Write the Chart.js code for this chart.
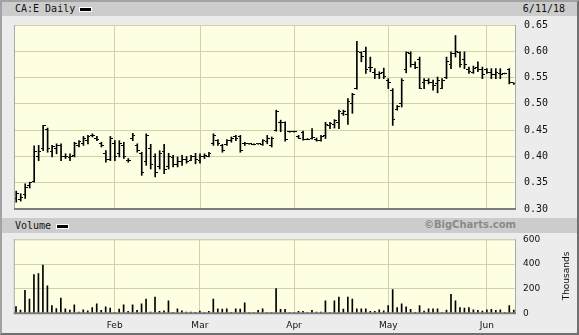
<!DOCTYPE html>
<html>
<head>
<meta charset="utf-8">
<script src="https://cdn.jsdelivr.net/npm/chart.js@4.4.1/dist/chart.umd.min.js"></script>
<style>
  body { margin: 0; }
  #frame { position: relative; width: 579px; height: 335px; background: #ececec; overflow: hidden;
           font-family: 'DejaVu Sans Mono', monospace; font-size: 10px; color: #111; }
  #edge { position: absolute; left: 0; top: 0; width: 579px; height: 335px; box-sizing: border-box;
          border: 2px solid #a2a2a2; border-right-color: #707070; border-bottom-color: #707070; pointer-events: none; }
  .bar { position: absolute; left: 2px; width: 575px; background: #cccccc; }
  .lbl { position: absolute; white-space: nowrap; }
  .swatch { position: absolute; width: 11px; height: 3px; background: #000; border: 1px solid #fff; }
  .box { position: absolute; left: 9px; width: 570px; }
  #thou { position: absolute; left: 566px; top: 276px; font: 9px 'DejaVu Sans', sans-serif;
          transform: translate(-50%, -50%) rotate(-90deg); white-space: nowrap; }
</style>
</head>
<body>
<div id="frame">
  <div class="bar" style="top:2px;height:14px"></div>
  <span class="lbl" style="left:15px;top:3px">CA:E Daily</span>
  <span class="swatch" style="left:79px;top:7px"></span>
  <span class="lbl" style="right:14px;top:3px">6/11/18</span>

  <div class="bar" style="top:218px;height:15px"></div>
  <span class="lbl" style="left:15px;top:220px">Volume</span>
  <span class="swatch" style="left:56px;top:224px"></span>
  <span class="lbl" style="right:63px;top:219px;font:bold 10px 'DejaVu Sans',sans-serif;color:#8a8a8a">©BigCharts.com</span>

  <div class="box" style="top:11px;height:212px"><canvas id="price" width="570" height="212"></canvas></div>
  <div class="box" style="top:227px;height:111px"><canvas id="vol" width="570" height="111"></canvas></div>
  <div id="thou">Thousands</div>
  <div id="edge"></div>
</div>
<script>
'use strict';
// daily OHLC, Jan 2 - Jun 11 2018
let highs = [.334,.329,.348,.351,.420,.421,.459,.454,.421,.424,
  .424,.405,.405,.427,.430,.438,.440,.443,.438,.427,
  .411,.438,.430,.430,.427,.396,.444,.424,.408,.443,
  .423,.405,.411,.423,.406,.402,.399,.402,.400,.402,
  .406,.405,.405,.408,.443,.432,.423,.432,.437,.440,
  .440,.427,.424,.424,.424,.432,.440,.437,.488,.469,
  .466,.448,.448,.440,.448,.434,.453,.435,.440,.465,
  .465,.470,.488,.488,.510,.520,.619,.599,.608,.589,
  .567,.561,.568,.548,.529,.497,.548,.599,.599,.580,
  .589,.548,.548,.545,.551,.548,.589,.599,.630,.599,
  .599,.570,.572,.580,.570,.567,.567,.567,.567,.558,
  .567,.540];
let lows = [.313,.315,.320,.340,.351,.392,.411,.408,.399,.405,
  .392,.396,.392,.399,.418,.421,.424,.437,.430,.418,
  .389,.392,.392,.399,.396,.389,.430,.408,.364,.383,
  .376,.361,.376,.367,.376,.380,.380,.383,.387,.392,
  .386,.387,.396,.399,.421,.421,.408,.421,.427,.430,
  .408,.421,.423,.422,.423,.421,.424,.418,.448,.447,
  .429,.446,.446,.434,.431,.432,.433,.429,.429,.434,
  .453,.454,.453,.478,.461,.482,.528,.580,.558,.561,
  .548,.548,.548,.529,.459,.488,.494,.559,.570,.567,
  .529,.529,.538,.526,.521,.529,.548,.567,.589,.570,
  .567,.558,.558,.561,.548,.558,.548,.548,.548,.557,
  .538,.537];
let opens = [.320,.318,.328,.345,.352,.400,.415,.452,.410,.415,
  .420,.400,.398,.402,.420,.425,.430,.440,.435,.425,
  .405,.395,.425,.405,.420,.392,.435,.420,.405,.390,
  .415,.400,.380,.410,.380,.398,.385,.390,.395,.393,
  .400,.392,.400,.400,.425,.430,.420,.422,.430,.438,
  .438,.424,.424,.423,.424,.422,.428,.420,.450,.465,
  .465,.447,.447,.438,.445,.433,.435,.432,.430,.440,
  .458,.460,.465,.482,.480,.500,.530,.598,.600,.570,
  .560,.555,.560,.545,.525,.490,.500,.565,.595,.575,
  .585,.540,.545,.540,.538,.530,.550,.575,.595,.598,
  .585,.565,.560,.570,.565,.565,.560,.555,.558,.558,
  .565,.540];
let closes = [.330,.322,.340,.350,.410,.410,.458,.415,.418,.420,
  .400,.400,.400,.425,.428,.435,.438,.440,.432,.420,
  .395,.435,.400,.425,.400,.392,.440,.412,.370,.440,
  .385,.370,.405,.375,.400,.385,.390,.395,.390,.400,
  .395,.400,.402,.406,.440,.425,.412,.430,.435,.435,
  .412,.424,.424,.422,.424,.430,.435,.435,.485,.465,
  .432,.447,.447,.435,.433,.433,.436,.430,.438,.460,
  .462,.468,.485,.485,.505,.518,.600,.590,.565,.570,
  .555,.558,.552,.540,.470,.495,.545,.598,.575,.570,
  .530,.545,.540,.535,.545,.545,.580,.595,.600,.575,
  .575,.562,.568,.565,.555,.560,.555,.560,.555,.558,
  .540,.538];
// volume in thousands
let volume = [54,26,185,115,315,323,392,223,62,38,123,36,26,69,10,28,20,46,77,23,51,41,
  5,33,69,15,69,23,77,115,10,131,15,20,100,5,36,20,10,10,8,
  18,3,15,115,36,33,36,8,36,33,85,2,2,23,36,2,2,200,31,31,5,
  5,15,15,3,23,10,10,100,5,100,131,33,131,115,36,36,36,15,15,28,20,62,
  192,46,77,51,31,8,62,18,36,36,36,3,26,154,100,46,41,46,28,23,18,
  28,31,23,28,5,62,26];
let priceTicks = [0.30, 0.35, 0.40, 0.45, 0.50, 0.55, 0.60, 0.65];
let volTicks = [0, 200, 400, 600];
let monthNames = ['Jan','Feb','Mar','Apr','May','Jun','Jul','Aug','Sep','Oct','Nov','Dec'];
let holidays = ['2018-02-19', '2018-03-30', '2018-05-21'];

// trading days (categories)
let days = [];
let d = new Date(Date.UTC(2018, 0, 2));
while (days.length < highs.length) {
    let s = d.toISOString().slice(0, 10);
    let wd = d.getUTCDay();
    if (wd !== 0 && wd !== 6 && !holidays.includes(s)) days.push(s);
    d.setUTCDate(d.getUTCDate() + 1);
}
let monthStart = days.map((s, i) => i > 0 && s.slice(5, 7) !== days[i - 1].slice(5, 7));

let plotBg = '#fefee3';
let gridCol = '#d2d2a8';

function tickMark(side) {
    let c = document.createElement('canvas');
    c.width = 5;
    c.height = 1;
    let g = c.getContext('2d');
    g.fillStyle = '#000';
    g.fillRect(side === 'open' ? 0 : 3, 0, 2, 1);
    return c;
}

let plotFrame = {
    id: 'plotFrame',
    beforeDraw(chart) {
        let a = chart.chartArea, ctx = chart.ctx;
        ctx.save();
        ctx.fillStyle = plotBg;
        ctx.fillRect(a.left, a.top, a.right - a.left, a.bottom - a.top);
        ctx.restore();
    },
    afterDraw(chart) {
        let a = chart.chartArea, ctx = chart.ctx;
        ctx.save();
        ctx.lineWidth = 1;
        ctx.strokeStyle = gridCol;
        ctx.beginPath(); ctx.moveTo(a.left, a.top + 0.5); ctx.lineTo(a.right, a.top + 0.5); ctx.stroke();
        ctx.strokeStyle = '#a8a8a8';
        ctx.beginPath(); ctx.moveTo(a.left + 0.5, a.top); ctx.lineTo(a.left + 0.5, a.bottom); ctx.stroke();
        ctx.beginPath(); ctx.moveTo(a.right - 0.5, a.top); ctx.lineTo(a.right - 0.5, a.bottom); ctx.stroke();
        ctx.strokeStyle = '#7c7c7c';
        ctx.lineWidth = 2;
        ctx.beginPath(); ctx.moveTo(a.left, a.bottom); ctx.lineTo(a.right, a.bottom); ctx.stroke();
        ctx.restore();
    }
};

function xScale(showLabels) {
    return {
        offset: true,
        grid: {
            offset: false,
            drawTicks: false,
            color: c => monthStart[c.index] ? gridCol : 'rgba(0,0,0,0)'
        },
        border: { display: false },
        ticks: {
            display: showLabels,
            autoSkip: false,
            maxRotation: 0,
            minRotation: 0,
            padding: 7,
            color: '#111',
            font: { family: 'DejaVu Sans', size: 9 },
            callback: (v, i) => monthStart[i] ? monthNames[+days[i].slice(5, 7) - 1] : ''
        }
    };
}

new Chart(document.getElementById('price'), {
    type: 'bar',
    data: {
        labels: days,
        datasets: [{
            data: lows.map((l, i) => [l, Math.max(highs[i], l + 0.0015)]),
            backgroundColor: '#000',
            barThickness: 1,
            order: 2
        }, {
            type: 'line',
            data: opens,
            showLine: false,
            pointStyle: tickMark('open'),
            order: 1
        }, {
            type: 'line',
            data: closes,
            showLine: false,
            pointStyle: tickMark('close'),
            order: 1
        }]
    },
    options: {
        responsive: false,
        animation: false,
        events: [],
        plugins: { legend: { display: false }, tooltip: { enabled: false } },
        scales: {
            x: xScale(false),
            y: {
                position: 'right',
                min: 0.30,
                max: 0.65,
                afterBuildTicks: s => { s.ticks = priceTicks.map(v => ({ value: v })); },
                afterFit: s => { s.width = 63; },
                grid: { color: gridCol, drawTicks: false },
                border: { display: false },
                ticks: {
                    padding: 8,
                    color: '#111',
                    font: { family: 'DejaVu Sans Mono', size: 10 },
                    callback: v => v.toFixed(2)
                }
            }
        }
    },
    plugins: [plotFrame]
});

new Chart(document.getElementById('vol'), {
    type: 'bar',
    data: {
        labels: days,
        datasets: [{
            data: volume,
            backgroundColor: '#000',
            barThickness: 1
        }]
    },
    options: {
        responsive: false,
        animation: false,
        events: [],
        plugins: { legend: { display: false }, tooltip: { enabled: false } },
        scales: {
            x: xScale(true),
            y: {
                position: 'right',
                min: 0,
                max: 600,
                afterBuildTicks: s => { s.ticks = volTicks.map(v => ({ value: v })); },
                afterFit: s => { s.width = 63; },
                grid: { color: gridCol, drawTicks: false },
                border: { display: false },
                ticks: {
                    padding: 7,
                    color: '#111',
                    font: { family: 'DejaVu Sans', size: 9 }
                }
            }
        }
    },
    plugins: [plotFrame]
});
</script>
</body>
</html>
